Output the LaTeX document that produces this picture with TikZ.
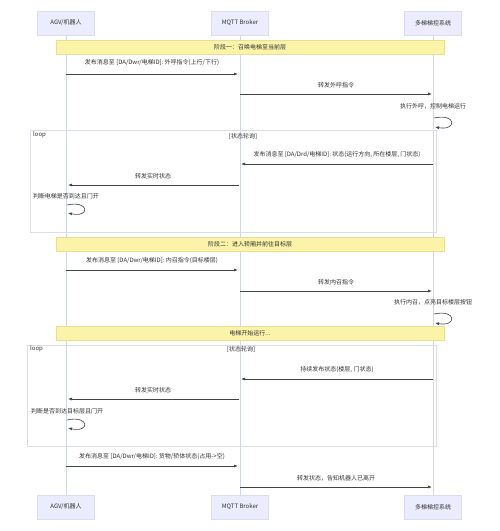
\documentclass[tikz,border=0pt]{standalone}
\usepackage{fontspec}
\setmainfont{Noto Sans CJK SC}
\usetikzlibrary{arrows.meta}
\definecolor{actfill}{HTML}{ECECFF}
\definecolor{actdraw}{HTML}{DCDCF0}
\definecolor{notefill}{HTML}{FBF3A8}
\definecolor{notedraw}{HTML}{E6DF9A}
\definecolor{lifec}{HTML}{D2D6E0}
\definecolor{framec}{HTML}{DADDE6}
\definecolor{msgc}{HTML}{444444}
\definecolor{txtc}{HTML}{333333}
\tikzset{
  actor/.style={draw=actdraw, fill=actfill, minimum width=57pt, minimum height=24pt, inner sep=0pt, font=\fontsize{6}{7}\selectfont, text=txtc},
  lifeline/.style={draw=lifec, line width=0.6pt},
  msg/.style={draw=msgc, line width=0.6pt, -{Latex[length=4pt,width=3pt]}},
  mlabel/.style={font=\fontsize{6}{7}\selectfont, text=txtc, inner sep=0pt},
  notebar/.style={draw=notedraw, fill=notefill, line width=0.4pt},
  frameline/.style={draw=framec, line width=0.6pt},
}
\begin{document}
\begin{tikzpicture}[x=1pt,y=-1pt]
\useasboundingbox (0,0) rectangle (500,531);
\fill[white] (0,0) rectangle (500,531);
% actors
\node[actor] (agvT) at (66,23) {AGV/机器人};
\node[actor] (mqT) at (240,23) {MQTT Broker};
\node[actor] (elT) at (433,23) {多梯梯控系统};
\node[actor] (agvB) at (66,507) {AGV/机器人};
\node[actor] (mqB) at (240,507) {MQTT Broker};
\node[actor] (elB) at (433,507) {多梯梯控系统};
% lifelines
\draw[lifeline] (agvT.south) -- (agvB.north);
\draw[lifeline] (mqT.south) -- (mqB.north);
\draw[lifeline] (elT.south) -- (elB.north);
% note 1
\draw[notebar] (56,40) rectangle (444,54);
\node[mlabel] (n1) at (250,47) {阶段一：召唤电梯至当前层};
% msg 1
\coordinate (a1) at (66,74); \coordinate (b1) at (238,74);
\node[mlabel] (l1) at (152,63) {发布消息至 [DA/Dwr/电梯ID]: 外呼指令(上行/下行)};
\draw[msg] (a1) -- (b1);
% msg 2
\coordinate (a2) at (240,94); \coordinate (b2) at (432,94);
\node[mlabel] (l2) at (336,85) {转发外呼指令};
\draw[msg] (a2) -- (b2);
% self 1
\node[mlabel] (l3) at (433,106) {执行外呼，控制电梯运行};
\coordinate (s1a) at (434,118); \coordinate (s1b) at (435,127);
\draw[msg] (s1a) .. controls (457,113) and (457,131) .. (s1b);
% loop 1
\draw[frameline] (30,130) rectangle (436,232);
\node[mlabel, anchor=west] (lp1) at (33,135) {loop};
\node[mlabel] (lc1) at (243,136) {[状态轮询]};
% msg 3
\coordinate (a3) at (433,164); \coordinate (b3) at (241,164);
\node[mlabel] (l4) at (337,155) {发布消息至 [DA/Drd/电梯ID]: 状态(运行方向, 所在楼层, 门状态)};
\draw[msg] (a3) -- (b3);
% msg 4
\coordinate (a4) at (239,185); \coordinate (b4) at (68,185);
\node[mlabel] (l5) at (153,176) {转发实时状态};
\draw[msg] (a4) -- (b4);
% self 2
\node[mlabel] (l6) at (66,196) {判断电梯是否到达且门开};
\coordinate (s2a) at (67,205); \coordinate (s2b) at (68,213);
\draw[msg] (s2a) .. controls (90,200) and (90,218) .. (s2b);
% note 2
\draw[notebar] (56,237) rectangle (444,251);
\node[mlabel] (n2) at (250,244) {阶段二：进入轿厢并前往目标层};
% msg 5
\coordinate (a5) at (66,270); \coordinate (b5) at (238,270);
\node[mlabel] (l7) at (152,261) {发布消息至 [DA/Dwr/电梯ID]: 内召指令(目标楼层)};
\draw[msg] (a5) -- (b5);
% msg 6
\coordinate (a6) at (240,291); \coordinate (b6) at (432,291);
\node[mlabel] (l8) at (336,282) {转发内召指令};
\draw[msg] (a6) -- (b6);
% self 3
\node[mlabel] (l9) at (433,302) {执行内召，点亮目标楼层按钮};
\coordinate (s3a) at (434,314); \coordinate (s3b) at (435,323);
\draw[msg] (s3a) .. controls (457,309) and (457,327) .. (s3b);
% note 3
\draw[notebar] (56,326) rectangle (444,340);
\node[mlabel] (n3) at (250,333) {电梯开始运行...};
% loop 2
\draw[frameline] (27,345) rectangle (436,446);
\node[mlabel, anchor=west] (lp2) at (30,349) {loop};
\node[mlabel] (lc2) at (241,349) {[状态轮询]};
% msg 7
\coordinate (a7) at (433,379); \coordinate (b7) at (241,379);
\node[mlabel] (l10) at (337,370) {持续发布状态(楼层, 门状态)};
\draw[msg] (a7) -- (b7);
% msg 8
\coordinate (a8) at (239,399); \coordinate (b8) at (68,399);
\node[mlabel] (l11) at (153,390) {转发实时状态};
\draw[msg] (a8) -- (b8);
% self 4
\node[mlabel] (l12) at (67,411) {判断是否到达目标层且门开};
\coordinate (s4a) at (67,420); \coordinate (s4b) at (68,428);
\draw[msg] (s4a) .. controls (90,415) and (90,433) .. (s4b);
% msg 9
\coordinate (a9) at (66,466); \coordinate (b9) at (238,466);
\node[mlabel] (l13) at (152,457) {发布消息至 [DA/Dwr/电梯ID]: 货物/轿体状态(占用->空)};
\draw[msg] (a9) -- (b9);
% msg 10
\coordinate (a10) at (240,487); \coordinate (b10) at (432,487);
\node[mlabel] (l14) at (336,478) {转发状态，告知机器人已离开};
\draw[msg] (a10) -- (b10);
\end{tikzpicture}
\end{document}
